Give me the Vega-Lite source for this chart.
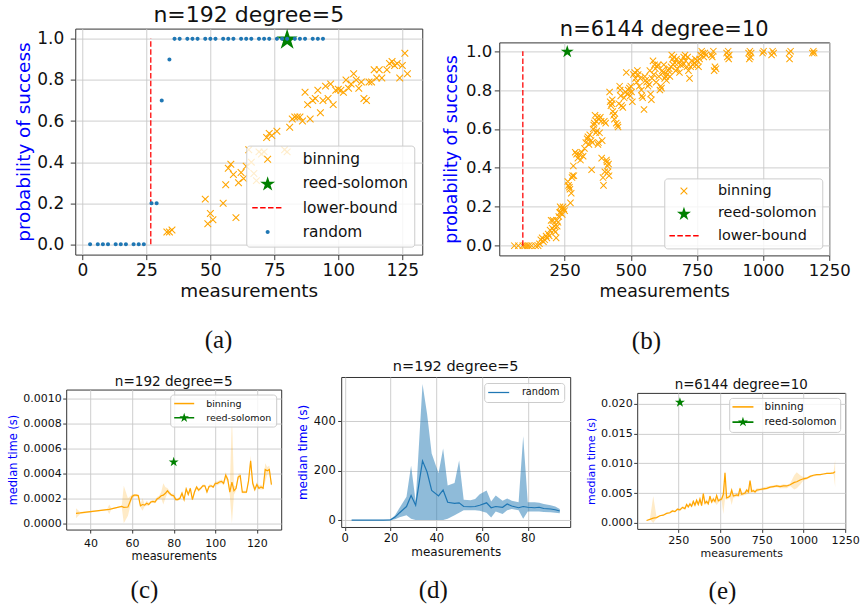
{
"$schema":"https://vega.github.io/schema/vega-lite/v6.json",
"background":"white",
"padding":{"left":7,"top":3.3,"right":3,"bottom":3},
"config":{
 "font":"DejaVu Sans",
 "view":{"stroke":"#333333","strokeWidth":1},
 "axis":{"gridColor":"#c8c8c8","gridWidth":0.9,"domain":false,"tickColor":"#222222","tickWidth":0.9,"labelColor":"#111111","titleColor":"#111111","titleFontWeight":"normal","labelFont":"DejaVu Sans","titleFont":"DejaVu Sans","labelFlush":false,"labelOverlap":false,"labelBound":false,"labelSeparation":0,"tickCount":12},
 "title":{"font":"DejaVu Sans","fontWeight":"normal","color":"#111111"},
 "legend":{"labelFont":"DejaVu Sans","labelColor":"#111111","fillColor":"rgba(255,255,255,0.8)","strokeColor":"#cccccc","cornerRadius":3}
},
"datasets":{
"aBin":[{"m":33,"p":0.06},{"m":34,"p":0.06},{"m":35,"p":0.07},{"m":48,"p":0.22},{"m":49,"p":0.10},{"m":50,"p":0.15},{"m":51,"p":0.12},{"m":55,"p":0.20},{"m":56,"p":0.29},{"m":57,"p":0.37},{"m":58,"p":0.39},{"m":59,"p":0.34},{"m":60,"p":0.13},{"m":61,"p":0.30},{"m":62,"p":0.35},{"m":63,"p":0.32},{"m":64,"p":0.38},{"m":65,"p":0.46},{"m":66,"p":0.40},{"m":67,"p":0.345},{"m":68,"p":0.31},{"m":69,"p":0.45},{"m":70,"p":0.44},{"m":71,"p":0.45},{"m":72,"p":0.52},{"m":73,"p":0.54},{"m":74,"p":0.53},{"m":76,"p":0.55},{"m":79,"p":0.46},{"m":80,"p":0.45},{"m":81,"p":0.57},{"m":82,"p":0.61},{"m":83,"p":0.62},{"m":84,"p":0.62},{"m":85,"p":0.62},{"m":86,"p":0.60},{"m":87,"p":0.74},{"m":88,"p":0.68},{"m":89,"p":0.61},{"m":90,"p":0.70},{"m":91,"p":0.71},{"m":92,"p":0.75},{"m":93,"p":0.64},{"m":94,"p":0.70},{"m":95,"p":0.77},{"m":96,"p":0.71},{"m":97,"p":0.78},{"m":98,"p":0.68},{"m":99,"p":0.75},{"m":100,"p":0.755},{"m":101,"p":0.75},{"m":102,"p":0.74},{"m":103,"p":0.80},{"m":104,"p":0.76},{"m":105,"p":0.78},{"m":106,"p":0.83},{"m":107,"p":0.80},{"m":108,"p":0.76},{"m":109,"p":0.79},{"m":110,"p":0.71},{"m":111,"p":0.70},{"m":112,"p":0.79},{"m":113,"p":0.79},{"m":114,"p":0.85},{"m":115,"p":0.81},{"m":116,"p":0.85},{"m":117,"p":0.81},{"m":119,"p":0.85},{"m":120,"p":0.88},{"m":121,"p":0.89},{"m":122,"p":0.87},{"m":123,"p":0.88},{"m":124,"p":0.81},{"m":125,"p":0.87},{"m":126,"p":0.93},{"m":127,"p":0.83}],
"aRand":[{"m":3,"p":0},{"m":6,"p":0},{"m":8,"p":0},{"m":10,"p":0},{"m":13,"p":0},{"m":15,"p":0},{"m":17,"p":0},{"m":20,"p":0},{"m":22,"p":0},{"m":24,"p":0},{"m":27,"p":0.2},{"m":29,"p":0.2},{"m":31,"p":0.7},{"m":34,"p":0.9},{"m":36,"p":1},{"m":38,"p":1},{"m":41,"p":1},{"m":43,"p":1},{"m":45,"p":1},{"m":48,"p":1},{"m":50,"p":1},{"m":52,"p":1},{"m":55,"p":1},{"m":57,"p":1},{"m":59,"p":1},{"m":62,"p":1},{"m":64,"p":1},{"m":66,"p":1},{"m":69,"p":1},{"m":71,"p":1},{"m":73,"p":1},{"m":76,"p":1},{"m":78,"p":1},{"m":80,"p":1},{"m":83,"p":1},{"m":85,"p":1},{"m":87,"p":1},{"m":90,"p":1},{"m":92,"p":1},{"m":94,"p":1}],
"aRS":[{"m":80,"p":1}],
"aLB":[{"m":26.7,"p":0,"p2":1}],
"bBin":[{"m":60,"p":0},{"m":75,"p":0},{"m":92,"p":0},{"m":100,"p":0},{"m":108,"p":0},{"m":115,"p":0},{"m":125,"p":0},{"m":140,"p":0},{"m":150,"p":0},{"m":155,"p":0.01},{"m":160,"p":0.03},{"m":165,"p":0.04},{"m":170,"p":0.02},{"m":175,"p":0.03},{"m":180,"p":0.05},{"m":183,"p":0.04},{"m":188,"p":0.06},{"m":192,"p":0.05},{"m":195,"p":0.08},{"m":199,"p":0.13},{"m":203,"p":0.09},{"m":206,"p":0.13},{"m":210,"p":0.08},{"m":212,"p":0.1},{"m":215,"p":0.07},{"m":218,"p":0.04},{"m":220,"p":0.13},{"m":222,"p":0.1},{"m":225,"p":0.12},{"m":228,"p":0.15},{"m":231,"p":0.17},{"m":233,"p":0.2},{"m":236,"p":0.17},{"m":238,"p":0.19},{"m":241,"p":0.16},{"m":244,"p":0.2},{"m":247,"p":0.19},{"m":250,"p":0.18},{"m":262,"p":0.33},{"m":265,"p":0.31},{"m":268,"p":0.3},{"m":270,"p":0.29},{"m":272,"p":0.22},{"m":275,"p":0.27},{"m":278,"p":0.35},{"m":280,"p":0.36},{"m":283,"p":0.41},{"m":285,"p":0.36},{"m":290,"p":0.48},{"m":295,"p":0.47},{"m":300,"p":0.45},{"m":305,"p":0.47},{"m":310,"p":0.44},{"m":315,"p":0.48},{"m":320,"p":0.46},{"m":325,"p":0.5},{"m":330,"p":0.53},{"m":335,"p":0.55},{"m":338,"p":0.56},{"m":342,"p":0.52},{"m":345,"p":0.57},{"m":350,"p":0.54},{"m":352,"p":0.39},{"m":355,"p":0.53},{"m":358,"p":0.6},{"m":360,"p":0.62},{"m":362,"p":0.63},{"m":365,"p":0.67},{"m":368,"p":0.58},{"m":370,"p":0.64},{"m":372,"p":0.59},{"m":374,"p":0.66},{"m":376,"p":0.52},{"m":378,"p":0.53},{"m":380,"p":0.65},{"m":382,"p":0.58},{"m":385,"p":0.66},{"m":388,"p":0.64},{"m":390,"p":0.45},{"m":392,"p":0.54},{"m":395,"p":0.35},{"m":397,"p":0.31},{"m":400,"p":0.64},{"m":402,"p":0.38},{"m":405,"p":0.63},{"m":408,"p":0.44},{"m":410,"p":0.43},{"m":412,"p":0.41},{"m":414,"p":0.38},{"m":416,"p":0.42},{"m":418,"p":0.36},{"m":420,"p":0.79},{"m":422,"p":0.74},{"m":425,"p":0.72},{"m":428,"p":0.73},{"m":430,"p":0.75},{"m":432,"p":0.69},{"m":435,"p":0.67},{"m":438,"p":0.65},{"m":440,"p":0.68},{"m":445,"p":0.63},{"m":450,"p":0.62},{"m":452,"p":0.61},{"m":455,"p":0.73},{"m":458,"p":0.82},{"m":460,"p":0.8},{"m":462,"p":0.77},{"m":465,"p":0.72},{"m":470,"p":0.71},{"m":475,"p":0.76},{"m":480,"p":0.79},{"m":483,"p":0.89},{"m":486,"p":0.78},{"m":490,"p":0.8},{"m":495,"p":0.81},{"m":498,"p":0.77},{"m":500,"p":0.82},{"m":503,"p":0.79},{"m":506,"p":0.74},{"m":510,"p":0.88},{"m":515,"p":0.89},{"m":518,"p":0.86},{"m":522,"p":0.84},{"m":525,"p":0.9},{"m":528,"p":0.88},{"m":532,"p":0.82},{"m":536,"p":0.86},{"m":540,"p":0.8},{"m":542,"p":0.77},{"m":545,"p":0.76},{"m":550,"p":0.7},{"m":553,"p":0.87},{"m":556,"p":0.85},{"m":560,"p":0.84},{"m":565,"p":0.82},{"m":570,"p":0.83},{"m":572,"p":0.9},{"m":575,"p":0.78},{"m":578,"p":0.75},{"m":580,"p":0.86},{"m":584,"p":0.95},{"m":587,"p":0.88},{"m":590,"p":0.93},{"m":593,"p":0.91},{"m":596,"p":0.84},{"m":600,"p":0.92},{"m":603,"p":0.93},{"m":606,"p":0.87},{"m":610,"p":0.8},{"m":613,"p":0.82},{"m":616,"p":0.81},{"m":619,"p":0.9},{"m":622,"p":0.89},{"m":625,"p":0.93},{"m":628,"p":0.86},{"m":632,"p":0.87},{"m":635,"p":0.85},{"m":638,"p":0.88},{"m":642,"p":0.9},{"m":645,"p":0.91},{"m":648,"p":0.87},{"m":652,"p":0.92},{"m":655,"p":0.98},{"m":658,"p":0.96},{"m":660,"p":0.93},{"m":663,"p":0.97},{"m":666,"p":0.94},{"m":670,"p":0.9},{"m":673,"p":0.96},{"m":676,"p":0.91},{"m":680,"p":0.94},{"m":684,"p":0.89},{"m":688,"p":0.93},{"m":692,"p":0.95},{"m":697,"p":0.93},{"m":700,"p":0.97},{"m":705,"p":0.98},{"m":708,"p":0.95},{"m":712,"p":0.92},{"m":715,"p":0.97},{"m":718,"p":0.9},{"m":722,"p":0.86},{"m":726,"p":0.92},{"m":730,"p":0.95},{"m":735,"p":0.93},{"m":740,"p":0.94},{"m":744,"p":0.96},{"m":748,"p":0.93},{"m":752,"p":0.95},{"m":756,"p":0.92},{"m":760,"p":0.96},{"m":764,"p":0.98},{"m":768,"p":1.0},{"m":772,"p":0.99},{"m":776,"p":0.97},{"m":780,"p":0.99},{"m":784,"p":0.98},{"m":805,"p":0.98},{"m":808,"p":0.97},{"m":812,"p":1.0},{"m":815,"p":0.9},{"m":818,"p":0.92},{"m":822,"p":0.91},{"m":862,"p":0.99},{"m":865,"p":0.97},{"m":868,"p":1.0},{"m":870,"p":0.96},{"m":872,"p":0.98},{"m":945,"p":0.99},{"m":948,"p":0.96},{"m":950,"p":1.0},{"m":952,"p":0.97},{"m":955,"p":0.99},{"m":998,"p":0.99},{"m":1002,"p":1.0},{"m":1032,"p":0.98},{"m":1036,"p":1.0},{"m":1040,"p":0.99},{"m":1098,"p":0.99},{"m":1100,"p":0.96},{"m":1104,"p":1.0},{"m":1186,"p":0.99},{"m":1190,"p":1.0},{"m":1193,"p":0.99}],
"bRS":[{"m":260,"p":1}],
"bLB":[{"m":92,"p":0,"p2":1}],
"cBin":[{"m":33,"t":0.00008,"lo":0.00004,"hi":0.00012},{"m":35,"t":0.000083,"lo":0.000075,"hi":0.00009},{"m":48,"t":0.00011,"lo":0.000105,"hi":0.000115},{"m":49,"t":0.000112,"lo":0.000075,"hi":0.00015},{"m":50,"t":0.000115,"lo":0.00011,"hi":0.00012},{"m":55,"t":0.000135,"lo":0.00013,"hi":0.00014},{"m":56,"t":0.000128,"lo":0.0,"hi":0.0003},{"m":58,"t":0.00013,"lo":0.00006,"hi":0.0002},{"m":60,"t":0.000215,"lo":0.0002,"hi":0.00023},{"m":61,"t":0.000225,"lo":0.00021,"hi":0.000235},{"m":62,"t":0.000225,"lo":0.000215,"hi":0.000235},{"m":63,"t":0.00022,"lo":0.0002,"hi":0.000235},{"m":64,"t":0.00014,"lo":0.00013,"hi":0.00015},{"m":65,"t":0.00015,"lo":0.0001,"hi":0.0002},{"m":66,"t":0.000145,"lo":0.000135,"hi":0.000155},{"m":67,"t":0.00016,"lo":0.00014,"hi":0.00018},{"m":68,"t":0.00015,"lo":0.00014,"hi":0.000165},{"m":69,"t":0.00017,"lo":0.00016,"hi":0.00018},{"m":70,"t":0.000175,"lo":0.000165,"hi":0.000185},{"m":71,"t":0.00017,"lo":0.00016,"hi":0.000185},{"m":72,"t":0.000195,"lo":0.00018,"hi":0.00021},{"m":73,"t":0.000205,"lo":0.00019,"hi":0.00022},{"m":74,"t":0.00022,"lo":0.0002,"hi":0.00025},{"m":75,"t":0.000225,"lo":0.00015,"hi":0.00032},{"m":76,"t":0.00024,"lo":0.0002,"hi":0.00029},{"m":77,"t":0.00026,"lo":0.00024,"hi":0.00028},{"m":78,"t":0.00024,"lo":0.000225,"hi":0.00026},{"m":79,"t":0.000225,"lo":0.000215,"hi":0.000235},{"m":80,"t":0.00022,"lo":0.0002,"hi":0.00024},{"m":81,"t":0.00019,"lo":0.00018,"hi":0.000205},{"m":82,"t":0.00019,"lo":0.00018,"hi":0.0002},{"m":83,"t":0.0002,"lo":0.00019,"hi":0.000215},{"m":84,"t":0.00024,"lo":0.000225,"hi":0.00026},{"m":85,"t":0.00019,"lo":0.00018,"hi":0.0002},{"m":86,"t":0.000275,"lo":0.00026,"hi":0.00029},{"m":87,"t":0.00023,"lo":0.000215,"hi":0.000245},{"m":88,"t":0.00028,"lo":0.00027,"hi":0.00029},{"m":89,"t":0.00019,"lo":0.00018,"hi":0.0002},{"m":90,"t":0.00025,"lo":0.000235,"hi":0.000265},{"m":91,"t":0.00029,"lo":0.000275,"hi":0.000305},{"m":92,"t":0.000265,"lo":0.00025,"hi":0.00028},{"m":93,"t":0.00028,"lo":0.00027,"hi":0.00029},{"m":94,"t":0.0003,"lo":0.00029,"hi":0.00031},{"m":95,"t":0.0003,"lo":0.00029,"hi":0.00031},{"m":96,"t":0.00025,"lo":0.00024,"hi":0.00026},{"m":97,"t":0.000295,"lo":0.00028,"hi":0.00031},{"m":98,"t":0.0003,"lo":0.00029,"hi":0.00031},{"m":99,"t":0.00029,"lo":0.00028,"hi":0.0003},{"m":100,"t":0.00032,"lo":0.000305,"hi":0.000335},{"m":101,"t":0.00032,"lo":0.000305,"hi":0.000335},{"m":102,"t":0.00033,"lo":0.000315,"hi":0.000345},{"m":103,"t":0.000335,"lo":0.00032,"hi":0.00035},{"m":104,"t":0.00032,"lo":0.000305,"hi":0.000335},{"m":105,"t":0.000385,"lo":0.00035,"hi":0.00041},{"m":106,"t":0.00035,"lo":0.00033,"hi":0.00037},{"m":107,"t":0.00025,"lo":0.00022,"hi":0.00028},{"m":108,"t":0.00033,"lo":0.0,"hi":0.00087},{"m":109,"t":0.00026,"lo":0.00023,"hi":0.0003},{"m":110,"t":0.00028,"lo":0.00026,"hi":0.0003},{"m":111,"t":0.00037,"lo":0.00035,"hi":0.00039},{"m":112,"t":0.00038,"lo":0.00036,"hi":0.0004},{"m":113,"t":0.00025,"lo":0.00024,"hi":0.00026},{"m":114,"t":0.00025,"lo":0.00024,"hi":0.00026},{"m":115,"t":0.00025,"lo":0.00024,"hi":0.00026},{"m":116,"t":0.00034,"lo":0.00032,"hi":0.00036},{"m":117,"t":0.0005,"lo":0.00046,"hi":0.00054},{"m":118,"t":0.00032,"lo":0.00029,"hi":0.00035},{"m":119,"t":0.00027,"lo":0.00025,"hi":0.00029},{"m":120,"t":0.00031,"lo":0.00029,"hi":0.00033},{"m":121,"t":0.00028,"lo":0.00027,"hi":0.0003},{"m":122,"t":0.00029,"lo":0.00027,"hi":0.00031},{"m":123,"t":0.00028,"lo":0.00027,"hi":0.00029},{"m":124,"t":0.00043,"lo":0.00033,"hi":0.00048},{"m":125,"t":0.00042,"lo":0.00039,"hi":0.00045},{"m":126,"t":0.00043,"lo":0.0004,"hi":0.00046},{"m":127,"t":0.00031,"lo":0.00029,"hi":0.00033}],
"cRS":[{"m":80,"t":0.00049}],
"dRand":[{"m":3,"t":0,"lo":0,"hi":0},{"m":6,"t":0,"lo":0,"hi":0},{"m":8,"t":0,"lo":0,"hi":0},{"m":10,"t":0,"lo":0,"hi":0},{"m":13,"t":0,"lo":0,"hi":0},{"m":15,"t":0,"lo":0,"hi":0},{"m":17,"t":0,"lo":0,"hi":0},{"m":20,"t":1,"lo":0,"hi":2},{"m":22,"t":12,"lo":3,"hi":20},{"m":24,"t":30,"lo":12,"hi":50},{"m":27,"t":55,"lo":20,"hi":95},{"m":29,"t":100,"lo":5,"hi":220},{"m":31,"t":60,"lo":0,"hi":75},{"m":34,"t":240,"lo":0,"hi":552},{"m":36,"t":195,"lo":0,"hi":430},{"m":38,"t":120,"lo":0,"hi":270},{"m":41,"t":98,"lo":0,"hi":190},{"m":43,"t":122,"lo":0,"hi":290},{"m":45,"t":72,"lo":5,"hi":140},{"m":48,"t":68,"lo":20,"hi":150},{"m":50,"t":70,"lo":30,"hi":242},{"m":52,"t":55,"lo":40,"hi":82},{"m":55,"t":54,"lo":40,"hi":80},{"m":57,"t":55,"lo":40,"hi":85},{"m":59,"t":60,"lo":38,"hi":105},{"m":62,"t":70,"lo":30,"hi":120},{"m":64,"t":50,"lo":10,"hi":75},{"m":66,"t":55,"lo":35,"hi":100},{"m":69,"t":52,"lo":25,"hi":78},{"m":71,"t":65,"lo":40,"hi":88},{"m":73,"t":57,"lo":45,"hi":78},{"m":76,"t":50,"lo":40,"hi":72},{"m":78,"t":55,"lo":5,"hi":340},{"m":80,"t":52,"lo":35,"hi":72},{"m":83,"t":50,"lo":35,"hi":72},{"m":85,"t":52,"lo":35,"hi":70},{"m":87,"t":47,"lo":33,"hi":65},{"m":90,"t":45,"lo":32,"hi":60},{"m":92,"t":42,"lo":30,"hi":55},{"m":94,"t":37,"lo":28,"hi":45}],
"eBin":[{"m":60,"t":0.0004,"lo":0.0004,"hi":0.0004},{"m":80,"t":0.0006,"lo":0.0006,"hi":0.0006},{"m":100,"t":0.0008,"lo":0.0,"hi":0.0045},{"m":120,"t":0.0009,"lo":0.0008,"hi":0.001},{"m":140,"t":0.0012,"lo":0.0011,"hi":0.0013},{"m":160,"t":0.0013,"lo":0.0012,"hi":0.0014},{"m":180,"t":0.0016,"lo":0.0015,"hi":0.0017},{"m":200,"t":0.0017,"lo":0.0016,"hi":0.0019},{"m":215,"t":0.002,"lo":0.0018,"hi":0.0022},{"m":230,"t":0.0019,"lo":0.0018,"hi":0.0021},{"m":245,"t":0.0023,"lo":0.0021,"hi":0.0025},{"m":260,"t":0.0022,"lo":0.002,"hi":0.0024},{"m":275,"t":0.0026,"lo":0.0024,"hi":0.0028},{"m":290,"t":0.0024,"lo":0.0022,"hi":0.0027},{"m":300,"t":0.0031,"lo":0.0027,"hi":0.0034},{"m":310,"t":0.0027,"lo":0.0025,"hi":0.0029},{"m":320,"t":0.0032,"lo":0.0029,"hi":0.0035},{"m":330,"t":0.0028,"lo":0.0026,"hi":0.0031},{"m":340,"t":0.0036,"lo":0.0031,"hi":0.0039},{"m":350,"t":0.003,"lo":0.0027,"hi":0.0033},{"m":360,"t":0.0038,"lo":0.0033,"hi":0.0041},{"m":370,"t":0.0031,"lo":0.0028,"hi":0.0034},{"m":380,"t":0.004,"lo":0.0035,"hi":0.0044},{"m":390,"t":0.0029,"lo":0.0027,"hi":0.0032},{"m":400,"t":0.0049,"lo":0.004,"hi":0.0052},{"m":410,"t":0.0033,"lo":0.003,"hi":0.0036},{"m":420,"t":0.0036,"lo":0.0032,"hi":0.004},{"m":430,"t":0.0032,"lo":0.0029,"hi":0.0035},{"m":440,"t":0.0045,"lo":0.0038,"hi":0.0048},{"m":450,"t":0.0035,"lo":0.0032,"hi":0.0038},{"m":460,"t":0.004,"lo":0.0035,"hi":0.0044},{"m":470,"t":0.0036,"lo":0.0034,"hi":0.0039},{"m":480,"t":0.0046,"lo":0.003,"hi":0.005},{"m":490,"t":0.0037,"lo":0.0034,"hi":0.004},{"m":500,"t":0.0039,"lo":0.0036,"hi":0.0042},{"m":510,"t":0.004,"lo":0.0037,"hi":0.0043},{"m":520,"t":0.0048,"lo":0.0015,"hi":0.0055},{"m":530,"t":0.0084,"lo":0.004,"hi":0.0088},{"m":540,"t":0.0042,"lo":0.0039,"hi":0.0045},{"m":550,"t":0.0043,"lo":0.004,"hi":0.0046},{"m":560,"t":0.0045,"lo":0.0042,"hi":0.0048},{"m":570,"t":0.0055,"lo":0.003,"hi":0.006},{"m":580,"t":0.0045,"lo":0.0042,"hi":0.0048},{"m":590,"t":0.0046,"lo":0.0043,"hi":0.0049},{"m":600,"t":0.0047,"lo":0.0044,"hi":0.005},{"m":610,"t":0.0046,"lo":0.0043,"hi":0.0049},{"m":620,"t":0.0058,"lo":0.0045,"hi":0.0062},{"m":630,"t":0.0048,"lo":0.0045,"hi":0.0051},{"m":640,"t":0.0049,"lo":0.0046,"hi":0.0052},{"m":650,"t":0.005,"lo":0.0047,"hi":0.0053},{"m":660,"t":0.0055,"lo":0.0048,"hi":0.0058},{"m":670,"t":0.0052,"lo":0.0049,"hi":0.0055},{"m":680,"t":0.0071,"lo":0.005,"hi":0.0073},{"m":690,"t":0.0053,"lo":0.0051,"hi":0.0056},{"m":700,"t":0.0054,"lo":0.0051,"hi":0.0057},{"m":710,"t":0.0052,"lo":0.005,"hi":0.0055},{"m":720,"t":0.0055,"lo":0.0052,"hi":0.0058},{"m":740,"t":0.0056,"lo":0.0054,"hi":0.0058},{"m":760,"t":0.0057,"lo":0.0055,"hi":0.006},{"m":780,"t":0.0058,"lo":0.0056,"hi":0.0061},{"m":800,"t":0.006,"lo":0.0058,"hi":0.0062},{"m":820,"t":0.0061,"lo":0.0059,"hi":0.0063},{"m":840,"t":0.0062,"lo":0.006,"hi":0.0064},{"m":860,"t":0.0061,"lo":0.0058,"hi":0.0063},{"m":880,"t":0.0062,"lo":0.0058,"hi":0.0065},{"m":900,"t":0.0062,"lo":0.0058,"hi":0.0064},{"m":920,"t":0.0064,"lo":0.0062,"hi":0.0066},{"m":945,"t":0.0068,"lo":0.0056,"hi":0.008},{"m":960,"t":0.0069,"lo":0.0058,"hi":0.0085},{"m":980,"t":0.0072,"lo":0.0064,"hi":0.008},{"m":1000,"t":0.0074,"lo":0.0071,"hi":0.0077},{"m":1020,"t":0.0075,"lo":0.0073,"hi":0.0077},{"m":1040,"t":0.0078,"lo":0.0076,"hi":0.008},{"m":1060,"t":0.008,"lo":0.0078,"hi":0.0081},{"m":1080,"t":0.0081,"lo":0.0079,"hi":0.0082},{"m":1100,"t":0.0081,"lo":0.008,"hi":0.0082},{"m":1120,"t":0.0082,"lo":0.0081,"hi":0.0083},{"m":1140,"t":0.0083,"lo":0.0082,"hi":0.0084},{"m":1160,"t":0.0083,"lo":0.0082,"hi":0.0084},{"m":1180,"t":0.0084,"lo":0.0083,"hi":0.0085},{"m":1190,"t":0.0086,"lo":0.006,"hi":0.0106}],
"eRS":[{"m":260,"t":0.0202}]
},
"vconcat":[
 {"concat":[
  {"vconcat":[
   {"width":347,"height":226,
    "title":{"text":"n=192 degree=5","fontSize":22,"offset":1.7,"frame":"group"},
    "layer":[
     {"data":{"name":"aBin"},
      "mark":{"type":"point","filled":true,"size":45,"opacity":1},
      "encoding":{
       "x":{"field":"m","type":"quantitative","scale":{"domain":[-2.8,132.8],"nice":false,"zero":false},"axis":{"title":"measurements","values":[0,25,50,75,100,125],"tickCount":12,"labelFontSize":17,"titleFontSize":18.4,"tickSize":5,"labelPadding":3,"titlePadding":3,"labelOverlap":false}},
       "y":{"field":"p","type":"quantitative","scale":{"domain":[-0.05,1.05],"nice":false,"zero":false},"axis":{"title":"probability of success","titleColor":"#0000ff","values":[0,0.2,0.4,0.6,0.8,1],"tickCount":12,"format":".1f","labelFontSize":17,"titleFontSize":18.4,"tickSize":5,"labelPadding":6.5,"titlePadding":3,"labelOverlap":false}},
       "color":{"datum":"binning","type":"nominal","scale":{"domain":["binning","reed-solomon","lower-bound","random"],"range":["orange","green","red","#1f77b4"]},
        "legend":{"title":null,"orient":"bottom-right","offset":8.5,"padding":6,"labelFontSize":15.4,"rowPadding":7.2,"symbolOffset":7.7,"labelOffset":27.3,"symbolSize":45,"symbolStrokeWidth":0,"symbolOpacity":1}},
       "shape":{"datum":"binning","type":"nominal","scale":{"domain":["binning","reed-solomon","lower-bound","random"],"range":["M-0.887,-1.113L1.113,0.887L0.887,1.113L-1.113,-0.887Z M0.887,-1.113L1.113,-0.887L-0.887,1.113L-1.113,0.887Z","M0,-2.15L0.524,-0.521L2.235,-0.526L0.848,0.475L1.382,2.101L0,1.093L-1.382,2.101L-0.848,0.475L-2.235,-0.526L-0.524,-0.521Z","M-4.6,-0.224H-2.96V0.224H-4.6Z M-2.244,-0.224H-0.604V0.224H-2.244Z M0.112,-0.224H1.752V0.224H0.112Z M2.468,-0.224H4.108V0.224H2.468Z","M0.6,0A0.6,0.6 0 1,1 -0.6,0A0.6,0.6 0 1,1 0.6,0Z"]},
        "legend":{"title":null,"orient":"bottom-right","offset":8.5,"padding":6,"labelFontSize":15.4,"rowPadding":7.2,"symbolOffset":7.7,"labelOffset":27.3,"symbolSize":45,"symbolStrokeWidth":0,"symbolOpacity":1}}}},
     {"data":{"name":"aRS"},
      "mark":{"type":"point","filled":true,"size":88,"opacity":1},
      "encoding":{"x":{"field":"m","type":"quantitative"},"y":{"field":"p","type":"quantitative"},"color":{"datum":"reed-solomon","type":"nominal"},"shape":{"datum":"reed-solomon","type":"nominal"}}},
     {"data":{"name":"aLB"},
      "mark":{"type":"rule","strokeDash":[5.5,2.4],"strokeWidth":1.5,"opacity":0.85},
      "encoding":{"x":{"field":"m","type":"quantitative"},"y":{"field":"p","type":"quantitative"},"y2":{"field":"p2"},"color":{"datum":"lower-bound","type":"nominal"}}},
     {"data":{"name":"aRand"},
      "mark":{"type":"point","filled":true,"size":45,"opacity":1},
      "encoding":{"x":{"field":"m","type":"quantitative"},"y":{"field":"p","type":"quantitative"},"color":{"datum":"random","type":"nominal"},"shape":{"datum":"random","type":"nominal"}}}
    ]}
   ],
   "title":{"text":["(a)",""],"lineHeight":15,"orient":"bottom","font":"Liberation Serif","fontSize":25,"offset":27.5,"anchor":"middle"},
   "resolve":{"scale":{"color":"independent","shape":"independent"},"legend":{"color":"independent","shape":"independent"}}},
  {"vconcat":[
   {"width":330,"height":213,
    "title":{"text":"n=6144 degree=10","fontSize":21,"offset":2.6,"frame":"group"},
    "layer":[
     {"data":{"name":"bBin"},
      "mark":{"type":"point","filled":true,"size":40,"opacity":1},
      "encoding":{
       "x":{"field":"m","type":"quantitative","scale":{"domain":[3,1250],"nice":false,"zero":false},"axis":{"title":"measurements","values":[250,500,750,1000,1250],"tickCount":12,"format":"d","labelFontSize":16.5,"titleFontSize":17.4,"tickSize":5,"labelPadding":2,"titlePadding":4,"labelOverlap":false}},
       "y":{"field":"p","type":"quantitative","scale":{"domain":[-0.05,1.045],"nice":false,"zero":false},"axis":{"title":"probability of success","titleColor":"#0000ff","values":[0,0.2,0.4,0.6,0.8,1],"tickCount":12,"format":".1f","labelFontSize":16.5,"titleFontSize":17.4,"tickSize":5,"labelPadding":2.5,"titlePadding":5,"labelOverlap":false}},
       "color":{"datum":"binning","type":"nominal","scale":{"domain":["binning","reed-solomon","lower-bound"],"range":["orange","green","red"]},
        "legend":{"title":null,"orient":"bottom-right","offset":7.2,"padding":5.5,"labelFontSize":14.4,"rowPadding":7.3,"symbolOffset":7,"labelOffset":26.8,"symbolSize":45,"symbolStrokeWidth":0,"symbolOpacity":1}},
       "shape":{"datum":"binning","type":"nominal","scale":{"domain":["binning","reed-solomon","lower-bound"],"range":["M-0.887,-1.113L1.113,0.887L0.887,1.113L-1.113,-0.887Z M0.887,-1.113L1.113,-0.887L-0.887,1.113L-1.113,0.887Z","M0,-2.0L0.488,-0.482L2.083,-0.487L0.791,0.446L1.288,1.962L0,1.022L-1.288,1.962L-0.791,0.446L-2.083,-0.487L-0.488,-0.482Z","M-4.33,-0.224H-2.69V0.224H-4.33Z M-1.974,-0.224H-0.334V0.224H-1.974Z M0.382,-0.224H2.022V0.224H0.382Z M2.738,-0.224H4.378V0.224H2.738Z"]},
        "legend":{"title":null,"orient":"bottom-right","offset":7.2,"padding":5.5,"labelFontSize":14.4,"rowPadding":7.3,"symbolOffset":7,"labelOffset":26.8,"symbolSize":45,"symbolStrokeWidth":0,"symbolOpacity":1}}}},
     {"data":{"name":"bRS"},
      "mark":{"type":"point","filled":true,"size":39,"opacity":1},
      "encoding":{"x":{"field":"m","type":"quantitative"},"y":{"field":"p","type":"quantitative"},"color":{"datum":"reed-solomon","type":"nominal"},"shape":{"datum":"reed-solomon","type":"nominal"}}},
     {"data":{"name":"bLB"},
      "mark":{"type":"rule","strokeDash":[5.5,2.4],"strokeWidth":1.5,"opacity":0.85},
      "encoding":{"x":{"field":"m","type":"quantitative"},"y":{"field":"p","type":"quantitative"},"y2":{"field":"p2"},"color":{"datum":"lower-bound","type":"nominal"}}}
    ]}
   ],
   "title":{"text":"(b)","orient":"bottom","font":"Liberation Serif","fontSize":25,"offset":28.4,"anchor":"middle"},
   "resolve":{"scale":{"color":"independent","shape":"independent"},"legend":{"color":"independent","shape":"independent"}}}
 ],
 "columns":2,
 "center":true,
 "spacing":18,
 "resolve":{"scale":{"color":"independent","shape":"independent"},"legend":{"color":"independent","shape":"independent"}}},
 {"concat":[
  {"vconcat":[
   {"width":215,"height":140,
    "title":{"text":"n=192 degree=5","fontSize":13.6,"offset":0.8,"frame":"group"},
    "layer":[
     {"data":{"name":"cBin"},
      "mark":{"type":"area","color":"orange","opacity":0.22},
      "encoding":{
       "x":{"field":"m","type":"quantitative","scale":{"domain":[28.3,131.7],"nice":false,"zero":false},"axis":{"title":"measurements","values":[40,60,80,100,120],"tickCount":12,"labelFontSize":11,"titleFontSize":11.4,"tickSize":3.5,"labelPadding":4.5,"titlePadding":1.5,"labelOverlap":false}},
       "y":{"field":"lo","type":"quantitative","scale":{"domain":[-0.00005,0.00107],"nice":false,"zero":false},"axis":{"title":"median time (s)","titleColor":"#0000ff","values":[0,0.0002,0.0004,0.0006,0.0008,0.001],"tickCount":12,"format":".4f","labelFontSize":11,"titleFontSize":11.4,"tickSize":3.5,"labelPadding":1.5,"titlePadding":4,"labelOverlap":false}},
       "y2":{"field":"hi"}}},
     {"data":{"name":"cBin"},
      "mark":{"type":"line","strokeWidth":1.2},
      "encoding":{"x":{"field":"m","type":"quantitative"},"y":{"field":"t","type":"quantitative"},
       "color":{"datum":"binning","type":"nominal","scale":{"domain":["binning","reed-solomon"],"range":["orange","green"]},
        "legend":{"title":null,"orient":"top-right","offset":5,"padding":4,"labelFontSize":9.5,"rowPadding":4.3,"symbolOffset":5,"labelOffset":17,
         "encode":{"symbols":{"update":{
          "shape":{"signal":"datum.value==='binning' ? 'M-2,-0.15H2V0.15H-2Z' : 'M-2,-0.15H2V0.15H-2Z M0,-1L0.223,-0.307L0.951,-0.309L0.361,0.117L0.588,0.809L0,0.38L-0.588,0.809L-0.361,0.117L-0.951,-0.309L-0.223,-0.307Z'"},
          "size":{"value":100},
          "fill":{"signal":"datum.value==='binning' ? 'orange' : 'green'"},
          "stroke":{"value":"transparent"},
          "strokeWidth":{"value":0},
          "opacity":{"value":1}}}}}}}},
     {"data":{"name":"cRS"},
      "mark":{"type":"point","shape":"M0,-1L0.223,-0.307L0.951,-0.309L0.361,0.117L0.588,0.809L0,0.38L-0.588,0.809L-0.361,0.117L-0.951,-0.309L-0.223,-0.307Z","filled":true,"size":110,"opacity":1},
      "encoding":{"x":{"field":"m","type":"quantitative"},"y":{"field":"t","type":"quantitative"},"color":{"datum":"reed-solomon","type":"nominal"}}}
    ]}
   ],
   "title":{"text":["(c)",""],"lineHeight":4.1,"orient":"bottom","font":"Liberation Serif","fontSize":25,"offset":16,"anchor":"middle"},
   "resolve":{"scale":{"color":"independent"},"legend":{"color":"independent"}}},
  {"vconcat":[
   {"width":229,"height":150,
    "title":{"text":"n=192 degree=5","fontSize":14.5,"offset":2,"frame":"group"},
    "layer":[
     {"data":{"name":"dRand"},
      "mark":{"type":"area","color":"#1f77b4","opacity":0.5},
      "encoding":{
       "x":{"field":"m","type":"quantitative","scale":{"domain":[-1.55,98.55],"nice":false,"zero":false},"axis":{"title":"measurements","values":[0,20,40,60,80],"tickCount":12,"labelFontSize":11.5,"titleFontSize":12,"tickSize":3.5,"labelPadding":1.6,"titlePadding":2.5,"labelOverlap":false}},
       "y":{"field":"lo","type":"quantitative","scale":{"domain":[-28,580],"nice":false,"zero":false},"axis":{"title":"median time (s)","titleColor":"#0000ff","values":[0,200,400],"tickCount":12,"format":"d","labelFontSize":11.5,"titleFontSize":12,"tickSize":3.5,"labelPadding":2.5,"titlePadding":3.7,"labelOverlap":false}},
       "y2":{"field":"hi"}}},
     {"data":{"name":"dRand"},
      "mark":{"type":"line","strokeWidth":1.2},
      "encoding":{"x":{"field":"m","type":"quantitative"},"y":{"field":"t","type":"quantitative"},
       "color":{"datum":"random","type":"nominal","scale":{"domain":["random"],"range":["#1f77b4"]},
        "legend":{"title":null,"orient":"top-right","offset":6.3,"padding":4,"labelFontSize":9.7,"symbolOffset":5,"labelOffset":17.7,
         "encode":{"symbols":{"update":{
          "shape":{"value":"M-2,-0.12H2V0.12H-2Z"},
          "size":{"value":110},
          "fill":{"value":"#1f77b4"},
          "stroke":{"value":"transparent"},
          "strokeWidth":{"value":0},
          "opacity":{"value":1}}}}}}}}
    ]}
   ],
   "title":{"text":["(d)",""],"lineHeight":16.5,"orient":"bottom","font":"Liberation Serif","fontSize":25,"offset":20.5,"anchor":"middle"},
   "resolve":{"scale":{"color":"independent"},"legend":{"color":"independent"}}},
  {"vconcat":[
   {"width":208,"height":136,
    "title":{"text":"n=6144 degree=10","fontSize":13.4,"offset":1.8,"frame":"group"},
    "layer":[
     {"data":{"name":"eBin"},
      "mark":{"type":"area","color":"orange","opacity":0.22},
      "encoding":{
       "x":{"field":"m","type":"quantitative","scale":{"domain":[4,1250],"nice":false,"zero":false},"axis":{"title":"measurements","values":[250,500,750,1000,1250],"tickCount":12,"format":"d","labelFontSize":11.1,"titleFontSize":11,"tickSize":3.5,"labelPadding":1.8,"titlePadding":2,"labelOverlap":false}},
       "y":{"field":"lo","type":"quantitative","scale":{"domain":[-0.001,0.0218],"nice":false,"zero":false},"axis":{"title":"median time (s)","titleColor":"#0000ff","values":[0,0.005,0.01,0.015,0.02],"tickCount":12,"format":".3f","labelFontSize":11.1,"titleFontSize":11,"tickSize":3.5,"labelPadding":1.5,"titlePadding":3.8,"labelOverlap":false}},
       "y2":{"field":"hi"}}},
     {"data":{"name":"eBin"},
      "mark":{"type":"line","strokeWidth":1.2},
      "encoding":{"x":{"field":"m","type":"quantitative"},"y":{"field":"t","type":"quantitative"},
       "color":{"datum":"binning","type":"nominal","scale":{"domain":["binning","reed-solomon"],"range":["orange","green"]},
        "legend":{"title":null,"orient":"top-right","offset":5,"padding":3.5,"labelFontSize":10.5,"rowPadding":4.2,"symbolOffset":4.75,"labelOffset":16.1,
         "encode":{"symbols":{"update":{
          "shape":{"signal":"datum.value==='binning' ? 'M-2,-0.15H2V0.15H-2Z' : 'M-2,-0.15H2V0.15H-2Z M0,-1L0.223,-0.307L0.951,-0.309L0.361,0.117L0.588,0.809L0,0.38L-0.588,0.809L-0.361,0.117L-0.951,-0.309L-0.223,-0.307Z'"},
          "size":{"value":110},
          "fill":{"signal":"datum.value==='binning' ? 'orange' : 'green'"},
          "stroke":{"value":"transparent"},
          "strokeWidth":{"value":0},
          "opacity":{"value":1}}}}}}}},
     {"data":{"name":"eRS"},
      "mark":{"type":"point","shape":"M0,-1L0.223,-0.307L0.951,-0.309L0.361,0.117L0.588,0.809L0,0.38L-0.588,0.809L-0.361,0.117L-0.951,-0.309L-0.223,-0.307Z","filled":true,"size":110,"opacity":1},
      "encoding":{"x":{"field":"m","type":"quantitative"},"y":{"field":"t","type":"quantitative"},"color":{"datum":"reed-solomon","type":"nominal"}}}
    ]}
   ],
   "title":{"text":"(e)","orient":"bottom","font":"Liberation Serif","fontSize":25,"offset":19.9,"anchor":"middle"},
   "resolve":{"scale":{"color":"independent"},"legend":{"color":"independent"}}}
 ],
 "columns":3,
 "center":true,
 "spacing":13,
 "resolve":{"scale":{"color":"independent"},"legend":{"color":"independent"}}}
],
"spacing":-9.5,
"center":true,
"resolve":{"scale":{"color":"independent","shape":"independent"},"legend":{"color":"independent","shape":"independent"}}
}
